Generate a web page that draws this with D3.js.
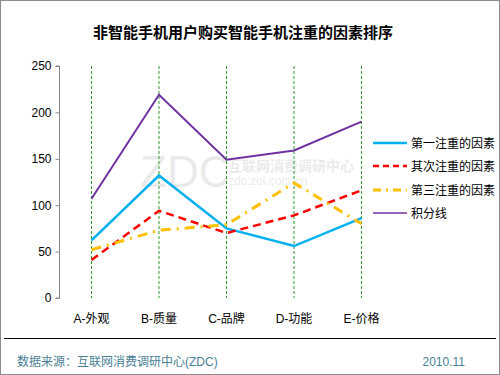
<!DOCTYPE html>
<html>
<head>
<meta charset="utf-8">
<script src="https://cdn.jsdelivr.net/npm/d3@7"></script>
<style>
  body { margin: 0; background: #fff; }
  svg text { font-family: Arial, "Liberation Sans", "Noto Sans CJK SC", sans-serif; }
</style>
</head>
<body>
<svg id="chart" width="500" height="375"></svg>
<script>
// chart data
const categories = ["A-外观", "B-质量", "C-品牌", "D-功能", "E-价格"];
const seriesNames = ["第一注重的因素", "其次注重的因素", "第三注重的因素", "积分线"];
const firstFactor = [62, 132, 75, 56, 86];
const secondFactor = [41, 94, 70, 89, 116];
const thirdFactor = [52, 73, 79, 124, 80];
const scoreLine = [107, 219, 149, 159, 190];
const yTicks = [0, 50, 100, 150, 200, 250];

const svg = d3.select("#chart");
const W = 500, H = 375;

// outer border
svg.append("rect")
    .attr("x", 0.5).attr("y", 0.5)
    .attr("width", W - 1).attr("height", H - 1)
    .attr("fill", "#fff")
    .attr("stroke", "#8c8c8c");

// title
svg.append("text")
    .attr("x", 243).attr("y", 38)
    .attr("text-anchor", "middle")
    .attr("font-size", 15)
    .attr("font-weight", "bold")
    .style("font-family", "'Noto Sans CJK SC', sans-serif")
    .text("非智能手机用户购买智能手机注重的因素排序");

// scales
const x = d3.scalePoint()
    .domain(categories)
    .range([91.5, 361.5]);

const y = d3.scaleLinear()
    .domain([0, 250])
    .range([298, 66]);

// faint watermark
const wm = svg.append("g").attr("opacity", 0.13).attr("fill", "#666");
wm.append("text").attr("x", 140).attr("y", 187)
    .attr("font-size", 44).attr("font-family", "Georgia, serif")
    .text("ZDC");
wm.append("text").attr("x", 228).attr("y", 171)
    .attr("font-size", 14).attr("font-weight", "bold")
    .style("font-family", "'Noto Sans CJK SC', sans-serif")
    .text("互联网消费调研中心");
wm.append("text").attr("x", 228).attr("y", 185)
    .attr("font-size", 12)
    .text("zdc.zol.com.cn");

// vertical green gridlines
svg.append("g")
    .selectAll("line")
    .data(categories)
    .enter().append("line")
    .attr("x1", d => x(d)).attr("x2", d => x(d))
    .attr("y1", y(250)).attr("y2", y(0))
    .attr("stroke", "#2e9a2e")
    .attr("stroke-width", 1)
    .attr("stroke-dasharray", "3,2");

// y axis
const yAxis = svg.append("g")
    .attr("transform", "translate(59.5,0)")
    .call(d3.axisLeft(y).tickValues(yTicks).tickSize(4).tickPadding(4));
yAxis.selectAll("path, line").attr("stroke", "#888");
yAxis.selectAll("text")
    .attr("font-size", 12)
    .attr("fill", "#000")
    .style("font-family", "Arial, 'Liberation Sans', sans-serif");
yAxis.select(".domain").attr("d", "M-4," + y(250) + "H0V" + y(0) + "H-4");

// x labels
svg.append("g")
    .selectAll("text")
    .data(categories)
    .enter().append("text")
    .attr("x", d => x(d))
    .attr("y", 323)
    .attr("text-anchor", "middle")
    .attr("font-size", 12)
    .text(d => d);

// series
const series = [
    { name: seriesNames[0], values: firstFactor, color: "#00b0f0", width: 2.5, dash: null },
    { name: seriesNames[1], values: secondFactor, color: "#ff0000", width: 2.5, dash: "8,5" },
    { name: seriesNames[2], values: thirdFactor, color: "#ffc000", width: 3, dash: "10,6,2,6" },
    { name: seriesNames[3], values: scoreLine, color: "#7030a0", width: 2, dash: null }
];

const line = d3.line()
    .x((d, i) => x(categories[i]))
    .y(d => y(d));

svg.append("g")
    .selectAll("path")
    .data(series)
    .enter().append("path")
    .attr("d", d => line(d.values))
    .attr("fill", "none")
    .attr("stroke", d => d.color)
    .attr("stroke-width", d => d.width)
    .attr("stroke-dasharray", d => d.dash);

// legend
const legend = svg.append("g")
    .selectAll("g")
    .data(series)
    .enter().append("g")
    .attr("transform", (d, i) => "translate(373," + [143, 166, 190, 213][i] + ")");

legend.append("line")
    .attr("x1", 0).attr("x2", 34)
    .attr("stroke", d => d.color)
    .attr("stroke-width", (d, i) => i === 3 ? 1.5 : d.width)
    .attr("stroke-dasharray", d => d.dash ? (d.dash === "8,5" ? "6,4" : "8,5,2,5") : null);

legend.append("text")
    .attr("x", 38).attr("y", 5)
    .attr("font-size", 12)
    .style("font-family", "'Noto Sans CJK SC', sans-serif")
    .text(d => d.name);

// footer rule
svg.append("line")
    .attr("x1", 4).attr("x2", 496)
    .attr("y1", 338.5).attr("y2", 338.5)
    .attr("stroke", "#000")
    .attr("stroke-width", 1);

svg.append("text")
    .attr("x", 17).attr("y", 366)
    .attr("font-size", 12)
    .attr("fill", "#4a7f95")
    .text("数据来源：互联网消费调研中心(ZDC)");

svg.append("text")
    .attr("x", 465).attr("y", 366)
    .attr("text-anchor", "end")
    .attr("font-size", 12)
    .attr("fill", "#4a7f95")
    .text("2010.11");
</script>
</body>
</html>
